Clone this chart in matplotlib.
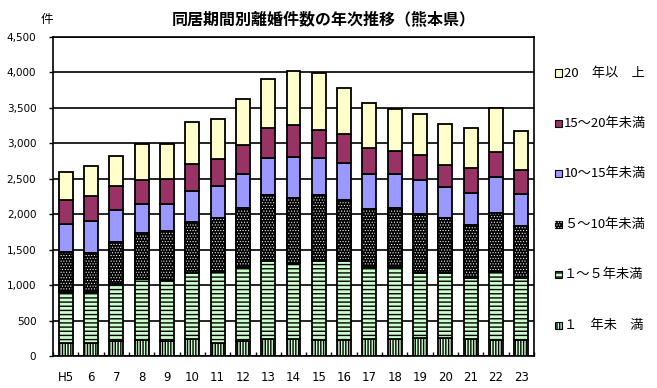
import matplotlib
matplotlib.use("Agg")
import matplotlib.pyplot as plt
from matplotlib.patches import Rectangle
import numpy as np

plt.rcParams["font.family"] = ["Noto Sans CJK JP", "DejaVu Sans"]
plt.rcParams["hatch.linewidth"] = 1.0

# 年次
years = ["H5", "6", "7", "8", "9", "10", "11", "12", "13", "14",
         "15", "16", "17", "18", "19", "20", "21", "22", "23"]

# 同居期間別 離婚件数
lt1 = [180, 190, 205, 230, 215, 240, 190, 215, 235, 235,
       225, 225, 235, 245, 250, 250, 240, 230, 225]
y1_5 = [720, 710, 815, 860, 855, 925, 995, 1045, 1105, 1080,
        1115, 1115, 1025, 1005, 915, 915, 865, 955, 880]
y5_10 = [570, 560, 595, 640, 695, 725, 760, 830, 925, 915,
         925, 865, 815, 840, 840, 780, 745, 835, 730]
y10_15 = [395, 445, 450, 420, 385, 435, 450, 475, 525, 575,
          525, 515, 490, 475, 480, 435, 445, 500, 455]
y15_20 = [330, 355, 330, 330, 340, 380, 385, 410, 430, 460,
          400, 415, 370, 325, 355, 310, 360, 360, 335]
ge20 = [395, 425, 430, 505, 495, 595, 570, 645, 685, 755,
        805, 650, 635, 595, 580, 580, 560, 620, 550]

labels = ["１　年未　満", "１～５年未満", "５～10年未満",
          "10～15年未満", "15～20年未満", "20　年以　上"]

# (facecolor, hatch, dot overlay)
styles = [
    ("#CCFFCC", "||||||", False),
    ("#CCFFCC", "----", False),
    ("black", None, True),
    ("#9999FF", None, False),
    ("#993366", None, False),
    ("#FFFFCC", None, False),
]
DOTS = "......"


def thin_hatch(artist, lw=0.45):
    if hasattr(artist, "set_hatch_linewidth"):
        artist.set_hatch_linewidth(lw)


W, H = 657, 388
fig = plt.figure(figsize=(W / 100, H / 100), dpi=100)
ax = fig.add_axes([53 / W, 1 - 356 / H, 481 / W, 319 / H])

x = np.arange(len(years))
series = [lt1, y1_5, y5_10, y10_15, y15_20, ge20]
bottom = np.zeros(len(years))
bw = 0.55
for vals, (fc, hatch, dots) in zip(series, styles):
    vals = np.array(vals)
    ax.bar(x, vals, bw, bottom=bottom, color=fc, edgecolor="black",
           linewidth=1.3, hatch=hatch, zorder=3)
    if dots:
        with plt.rc_context({"hatch.linewidth": 0.45}):
            over = ax.bar(x, vals, bw, bottom=bottom, facecolor="none",
                          edgecolor="white", linewidth=0, hatch=DOTS, zorder=4)
            for p in over:
                thin_hatch(p)
        ax.bar(x, vals, bw, bottom=bottom, facecolor="none",
               edgecolor="black", linewidth=1.3, zorder=5)
    bottom += vals

ax.set_xlim(-0.5, len(years) - 0.5)
ax.set_ylim(0, 4500)
ax.set_yticks(np.arange(0, 4501, 500))
ax.set_yticklabels([f"{v:,}" for v in range(0, 4501, 500)],
                   family="DejaVu Sans", fontsize=7.5)
ax.yaxis.grid(True, color="black", linewidth=1.2, zorder=0)
ax.set_axisbelow(True)
ax.tick_params(axis="y", length=3, width=1, pad=9)

ax.set_xticks(x)
ax.set_xticklabels(years, family="DejaVu Sans", fontsize=8.5)
ax.set_xticks(np.arange(-0.5, len(years), 1), minor=True)
ax.tick_params(axis="x", which="major", length=0, pad=11)
ax.tick_params(axis="x", which="minor", length=3, direction="in", width=1)
for sp in ax.spines.values():
    sp.set_linewidth(1.2)

fig.text(324 / W, 1 - 19 / H, "同居期間別離婚件数の年次推移（熊本県）",
         ha="center", va="center", fontsize=11.5, fontweight="bold")
fig.text(47 / W, 1 - 20 / H, "件", ha="center", va="center", fontsize=9)

# 凡例 (上から 20年以上 ...)
sq = 7
for i, k in enumerate(range(5, -1, -1)):
    cy = 73 + i * 50.4
    fc, hatch, dots = styles[k]
    pos = (555 / W, 1 - (cy + sq / 2) / H)
    fig.add_artist(Rectangle(pos, sq / W, sq / H, transform=fig.transFigure,
                             facecolor=fc, edgecolor="black", linewidth=0.8,
                             hatch=hatch))
    if dots:
        with plt.rc_context({"hatch.linewidth": 0.45}):
            r = Rectangle(pos, sq / W, sq / H, transform=fig.transFigure,
                          facecolor="none", edgecolor="white", linewidth=0,
                          hatch=DOTS)
            thin_hatch(r)
        fig.add_artist(r)
    fig.text(564 / W, 1 - cy / H, labels[k], ha="left", va="center",
             fontsize=9.5)

fig.savefig("out.png", dpi=100)
